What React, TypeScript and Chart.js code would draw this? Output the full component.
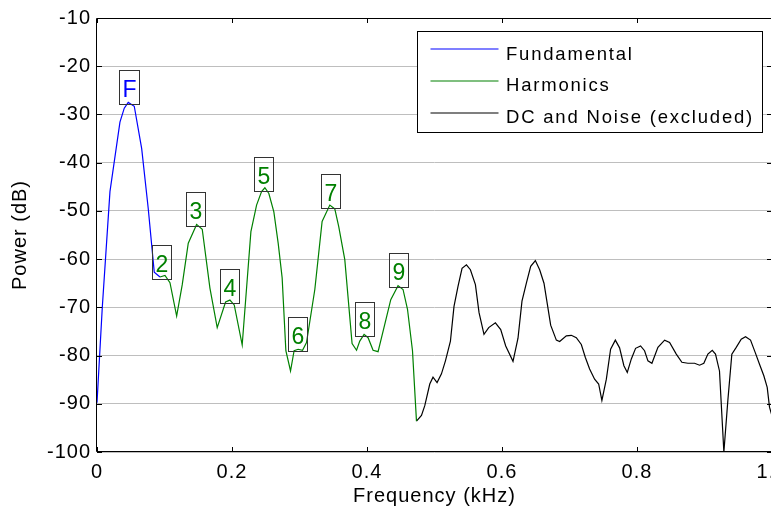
import { useEffect, useRef } from 'react';
import { Chart, registerables } from 'chart.js';

Chart.register(...registerables);

const FONT = '"Liberation Sans", Arial, Helvetica, sans-serif';
const BLUE = '#0000ff';
const GREEN = '#008000';
const BLACK = '#000000';
const SERIES_COLORS = [BLUE, GREEN, BLACK];

// Frequency (kHz) / power (dB)
const fundFreq = [0, 0.0078, 0.0192, 0.034, 0.0404, 0.0463, 0.0552, 0.0662, 0.0759, 0.0848, 0.0933];
const fundPower = [-89.8, -70.1, -46.0, -31.6, -28.7, -27.5, -28.3, -37.1, -49.5, -62.7, -63.7];

const harmFreq = [0.0933, 0.1007, 0.1081, 0.118, 0.1263, 0.1352, 0.1476, 0.1559, 0.1673, 0.1781, 0.1905, 0.1969, 0.2033, 0.2151, 0.228, 0.2364, 0.2438, 0.2487, 0.2546, 0.262, 0.2684, 0.2743, 0.2798, 0.2867, 0.292, 0.298, 0.3045, 0.3104, 0.3227, 0.3335, 0.3449, 0.3523, 0.3582, 0.3671, 0.3779, 0.3845, 0.3893, 0.3957, 0.4016, 0.409, 0.4164, 0.4264, 0.4352, 0.446, 0.4534, 0.46, 0.4674, 0.4733];
const harmPower = [-63.7, -63.4, -64.9, -71.8, -65.3, -56.7, -52.8, -53.8, -66.0, -74.2, -68.9, -68.5, -69.5, -77.8, -54.3, -48.8, -46.0, -45.2, -46.4, -50.2, -56.7, -63.9, -79.0, -83.2, -79.0, -78.7, -78.9, -77.3, -66.3, -52.2, -48.8, -49.6, -53.3, -60.1, -77.5, -78.9, -77.0, -75.6, -76.3, -78.9, -79.2, -73.5, -68.4, -65.5, -66.3, -70.4, -79.0, -93.6];

const noiseFreq = [0.4733, 0.4807, 0.4856, 0.493, 0.4978, 0.5038, 0.5103, 0.5162, 0.5236, 0.5289, 0.5349, 0.5408, 0.5473, 0.5532, 0.5606, 0.566, 0.5733, 0.5803, 0.5902, 0.5981, 0.6055, 0.6163, 0.6237, 0.6296, 0.6361, 0.6425, 0.6494, 0.6558, 0.6622, 0.6721, 0.6805, 0.6854, 0.6953, 0.7027, 0.7101, 0.7175, 0.7235, 0.7298, 0.7372, 0.7432, 0.748, 0.7546, 0.7609, 0.7679, 0.7742, 0.7806, 0.7856, 0.7916, 0.7979, 0.8053, 0.8112, 0.8162, 0.8221, 0.831, 0.8409, 0.8483, 0.8582, 0.8665, 0.8754, 0.8853, 0.8927, 0.899, 0.905, 0.9115, 0.9163, 0.9222, 0.9287, 0.9346, 0.9405, 0.947, 0.9544, 0.9608, 0.9682, 0.9752, 0.9815, 0.9879, 0.9929, 0.9963, 1.0];
const noisePower = [-93.6, -92.4, -90.4, -85.9, -84.5, -85.6, -83.8, -81.1, -77.0, -69.8, -65.6, -61.9, -61.2, -62.2, -65.3, -71.1, -75.6, -74.2, -73.2, -74.6, -78.0, -81.2, -76.4, -68.7, -65.0, -61.5, -60.3, -62.2, -65.0, -73.7, -76.8, -77.1, -75.9, -75.8, -76.3, -77.7, -80.4, -82.8, -84.9, -85.9, -89.3, -84.9, -78.7, -76.8, -78.4, -82.1, -83.5, -80.7, -78.5, -78.0, -79.0, -81.1, -81.6, -78.3, -76.8, -77.3, -79.7, -81.4, -81.6, -81.6, -82.0, -81.6, -79.7, -78.9, -79.7, -83.2, -100, -89.3, -79.7, -78.3, -76.6, -76.1, -76.8, -79.4, -81.8, -84.2, -86.6, -90.7, -92.5];

// Peak annotations
const labelText = ['F', '2', '3', '4', '5', '6', '7', '8', '9'];
const labelFreq = [0.0471, 0.0962, 0.1466, 0.1969, 0.2469, 0.2976, 0.3457, 0.3963, 0.4468];
const labelPower = [-27.6, -63.8, -52.8, -68.7, -45.5, -78.8, -49.0, -75.7, -65.5];

// Axis ticks
const xMin = 0, xMax = 1, xStep = 0.2;
const yMin = -100, yMax = -10, yStep = 10;

const seriesNames = ['Fundamental', 'Harmonics', 'DC and Noise (excluded)'];

function pts(f: number[], p: number[]) {
  return f.map((v, i) => ({ x: v, y: p[i] }));
}

const decorPlugin = {
  id: 'decor',
  beforeUpdate(chart: any) { chart.ctx.letterSpacing = '1px'; },
  beforeLayout(chart: any) { chart.ctx.letterSpacing = '1px'; },
  beforeDraw(chart: any) { chart.ctx.letterSpacing = '1px'; },
  afterDraw(chart: any) {
    const { ctx, chartArea: a, scales } = chart;
    const xs = scales.x, ys = scales.y;
    ctx.save();
    ctx.letterSpacing = '0px';
    // frame
    ctx.strokeStyle = '#000';
    ctx.lineWidth = 1;
    ctx.beginPath();
    ctx.moveTo(a.left - 0.5, a.bottom - 0.5);
    ctx.lineTo(a.left - 0.5, a.top + 0.5);
    ctx.lineTo(a.right - 0.5, a.top + 0.5);
    ctx.lineTo(a.right - 0.5, a.bottom - 0.5);
    ctx.closePath();
    ctx.stroke();
    // inward ticks
    const tl = 5;
    ctx.beginPath();
    ys.ticks.forEach((t: any) => {
      const py = Math.round(ys.getPixelForValue(t.value)) + 0.5;
      ctx.moveTo(a.left, py); ctx.lineTo(a.left + tl, py);
      ctx.moveTo(a.right - tl, py); ctx.lineTo(a.right, py);
    });
    xs.ticks.forEach((t: any) => {
      const px = Math.round(xs.getPixelForValue(t.value)) + 0.5;
      ctx.moveTo(px, a.bottom); ctx.lineTo(px, a.bottom - tl);
      ctx.moveTo(px, a.top); ctx.lineTo(px, a.top + tl);
    });
    ctx.stroke();

    // peak label boxes
    ctx.font = `23px ${FONT}`;
    ctx.textAlign = 'center';
    ctx.textBaseline = 'alphabetic';
    labelText.forEach((t, i) => {
      const px = xs.getPixelForValue(labelFreq[i]);
      const py = ys.getPixelForValue(labelPower[i]);
      const tw = ctx.measureText(t).width;
      const bw = Math.round(tw + 6), bh = 34;
      const bx = Math.round(px - bw / 2) + 0.5;
      const by = Math.round(py + 1.5 - bh) + 0.5;
      ctx.strokeStyle = '#333';
      ctx.lineWidth = 1;
      ctx.strokeRect(bx, by, bw, bh);
      ctx.fillStyle = t === 'F' ? BLUE : GREEN;
      ctx.fillText(t, bx + bw / 2, by + bh / 2 + 9.2);
    });

    // legend
    ctx.font = `18.5px ${FONT}`;
    ctx.letterSpacing = '1.8px';
    ctx.textAlign = 'left';
    const items = seriesNames.map((name, i) => ({ text: name, color: SERIES_COLORS[i] }));
    const maxW = Math.max(...items.map((it) => ctx.measureText(it.text).width));
    const padL = 13.5, lineLen = 68, gap = 7.5, padR = 8;
    const w = Math.round(padL + lineLen + gap + maxW + padR);
    const h = 101;
    const right = Math.round(a.right - 10.5);
    const left = right - w;
    const top = Math.round(a.top + 13);
    ctx.fillStyle = '#fff';
    ctx.fillRect(left, top, w, h);
    ctx.strokeStyle = '#000';
    ctx.lineWidth = 1;
    ctx.strokeRect(left + 0.5, top + 0.5, w, h);
    items.forEach((it, i) => {
      const ly = Math.round(top + 18.4 + i * 31.7);
      ctx.beginPath();
      ctx.strokeStyle = it.color;
      ctx.lineWidth = 1.2;
      ctx.moveTo(left + padL, ly);
      ctx.lineTo(left + padL + lineLen, ly);
      ctx.stroke();
      ctx.fillStyle = '#000';
      ctx.fillText(it.text, left + padL + lineLen + gap, top + 28.6 + i * 31.7);
    });
    ctx.restore();
  },
};

export default function App() {
  const ref = useRef<HTMLCanvasElement>(null);
  useEffect(() => {
    document.body.style.margin = '0';
    const canvas = ref.current!;
    const tickFont = { family: FONT, size: 20 };
    const chart = new Chart(canvas, {
      type: 'line',
      data: {
        datasets: [
          { label: seriesNames[0], data: pts(fundFreq, fundPower), borderColor: BLUE, backgroundColor: BLUE },
          { label: seriesNames[1], data: pts(harmFreq, harmPower), borderColor: GREEN, backgroundColor: GREEN },
          { label: seriesNames[2], data: pts(noiseFreq, noisePower), borderColor: BLACK, backgroundColor: BLACK },
        ],
      },
      options: {
        animation: false,
        responsive: false,
        devicePixelRatio: 1,
        layout: { padding: { top: 15, right: 1, bottom: 0, left: 0 } },
        plugins: { legend: { display: false }, tooltip: { enabled: false } },
        elements: {
          point: { radius: 0, hoverRadius: 0 },
          line: { tension: 0, borderWidth: 1.2 },
        },
        scales: {
          x: {
            type: 'linear',
            min: xMin,
            max: xMax,
            ticks: { stepSize: xStep, padding: 8, color: '#000', font: tickFont, maxRotation: 0, autoSkip: false },
            grid: { display: false, drawTicks: false },
            border: { display: false },
            title: { display: true, text: 'Frequency (kHz)', color: '#000', font: tickFont, padding: { top: 0, bottom: 6 } },
            afterFit(s: any) { s.height = 62; s.paddingRight = 0; s.paddingLeft = 0; },
          },
          y: {
            type: 'linear',
            min: yMin,
            max: yMax,
            ticks: { stepSize: yStep, padding: 6, color: '#000', font: tickFont },
            grid: { color: '#bebebe', drawTicks: false, lineWidth: 1 },
            border: { display: false },
            title: { display: true, text: 'Power (dB)', color: '#000', font: tickFont, padding: { top: 8, bottom: 0 } },
            afterFit(s: any) { s.width = 97; },
          },
        },
      } as any,
      plugins: [decorPlugin],
    });
    return () => chart.destroy();
  }, []);
  return (
    <div style={{ position: 'fixed', left: 0, top: 0, width: 771, height: 514, overflow: 'hidden', background: '#fff' }}>
      <canvas ref={ref} width={773} height={514} style={{ display: 'block', width: 773, height: 514 }} />
    </div>
  );
}
